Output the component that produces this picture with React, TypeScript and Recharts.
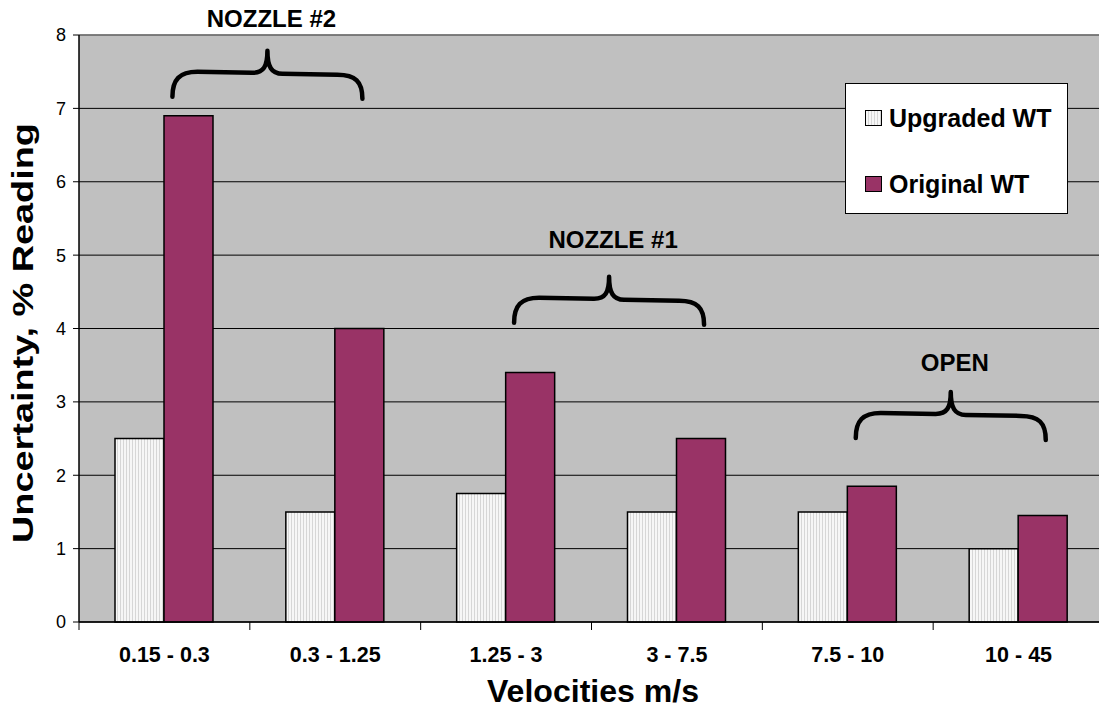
import React from "react";
import {
  BarChart,
  Bar,
  XAxis,
  YAxis,
  CartesianGrid,
  Legend,
  ReferenceLine,
  ReferenceDot,
  Customized,
} from "recharts";

const categories = ["0.15 - 0.3", "0.3 - 1.25", "1.25 - 3", "3 - 7.5", "7.5 - 10", "10 - 45"];
const upgradedWT = [2.5, 1.5, 1.75, 1.5, 1.5, 1.0];
const originalWT = [6.9, 4.0, 3.4, 2.5, 1.85, 1.45];
const yTicks = [0, 1, 2, 3, 4, 5, 6, 7, 8];

// brace annotations: starting category, brace level and label level (data units)
const braceCategories = ["0.15 - 0.3", "1.25 - 3", "7.5 - 10"];
const braceLabels = ["NOZZLE #2", "NOZZLE #1", "OPEN"];
const braceLevels = [7.5, 4.42, 2.85];
const labelLevels = [8.11, 5.1, 3.42];

const data = categories.map((c, i) => ({
  name: c,
  upgraded: upgradedWT[i],
  original: originalWT[i],
}));

const W = 1110;
const H = 710;
const PLOT_LEFT = 79;
const PLOT_RIGHT = 1104;
const HALF_BAND = (PLOT_RIGHT - PLOT_LEFT) / categories.length / 2;
const FONT = "'Liberation Sans', Arial, sans-serif";
const PURPLE = "#993366";

const XTick = (props: any) => {
  const { x, y, payload } = props;
  return (
    <g>
      <line x1={x - HALF_BAND} y1={y - 8} x2={x - HALF_BAND} y2={y} stroke="#000" strokeWidth={1} />
      <text x={x} y={y + 32} textAnchor="middle" fontSize={21.5} fontWeight="bold" fill="#000" fontFamily={FONT}>
        {payload.value}
      </text>
    </g>
  );
};

const Brace = (props: any) => {
  const { cx, cy } = props;
  const L = cx + 8;
  const Y = cy;
  const w = 190;
  const m = L + w / 2;
  const d = [
    `M ${L} ${Y + 25}`,
    `C ${L} ${Y + 8} ${L + 7} ${Y} ${L + 25} ${Y}`,
    `L ${m - 15} ${Y + 1}`,
    `C ${m - 4} ${Y + 1} ${m} ${Y - 5} ${m} ${Y - 21}`,
    `C ${m} ${Y - 5} ${m + 4} ${Y + 2} ${m + 15} ${Y + 2}`,
    `L ${L + w - 25} ${Y + 3}`,
    `C ${L + w - 7} ${Y + 3} ${L + w} ${Y + 10} ${L + w} ${Y + 27}`,
  ].join(" ");
  return <path d={d} fill="none" stroke="#000" strokeWidth={4.5} strokeLinecap="round" strokeLinejoin="round" />;
};

const braceLabel = (text: string) => (props: any) => {
  const { cx, cy } = props;
  return (
    <text x={cx + 107} y={cy} textAnchor="middle" fontSize={24} fontWeight="bold" fill="#000" fontFamily={FONT}>
      {text}
    </text>
  );
};

const AxisTitles = () => (
  <g fontFamily={FONT} fontWeight="bold" fill="#000">
    <text
      transform="translate(33,333) rotate(-90)"
      textAnchor="middle"
      fontSize={29}
      textLength={420}
      lengthAdjust="spacingAndGlyphs"
    >
      Uncertainty, % Reading
    </text>
    <text x={593} y={702} textAnchor="middle" fontSize={31} textLength={212} lengthAdjust="spacingAndGlyphs">
      Velocities m/s
    </text>
  </g>
);

const LegendBox = () => {
  const items = [
    { label: "Upgraded WT", fill: "url(#stripes)" },
    { label: "Original WT", fill: PURPLE },
  ];
  return (
    <div
      style={{
        width: 223,
        height: 131,
        boxSizing: "border-box",
        background: "#fff",
        border: "1px solid #000",
        fontFamily: FONT,
        position: "relative",
      }}
    >
      {items.map((it, i) => (
        <div
          key={it.label}
          style={{
            position: "absolute",
            left: 19,
            top: 21 + i * 66,
            display: "flex",
            alignItems: "center",
            whiteSpace: "nowrap",
          }}
        >
          <svg width={18} height={17} style={{ display: "block" }}>
            <rect x={0.5} y={0.5} width={16} height={15} fill={it.fill} stroke="#000" strokeWidth={1} />
          </svg>
          <span style={{ fontSize: 25, fontWeight: "bold", color: "#000", marginLeft: 6, lineHeight: "27px" }}>
            {it.label}
          </span>
        </div>
      ))}
    </div>
  );
};

export default function App() {
  return (
    <div style={{ position: "fixed", left: 0, top: 0, width: 1099, height: 710, overflow: "hidden", background: "#fff" }}>
      <BarChart
        width={W}
        height={H}
        data={data}
        margin={{ top: 35, right: W - PLOT_RIGHT, bottom: 0, left: 0 }}
        barGap={0}
      >
        <defs>
          <pattern id="stripes" width={3} height={4} patternUnits="userSpaceOnUse">
            <rect width={3} height={4} fill="#f6f6f6" />
            <rect x={0} width={1} height={4} fill="#d6d6d6" />
          </pattern>
        </defs>
        <CartesianGrid vertical={false} stroke="#000" strokeOpacity={1} fill="#C0C0C0" fillOpacity={1} />
        <XAxis
          dataKey="name"
          height={88}
          axisLine={{ stroke: "#000", strokeWidth: 1.5 }}
          tickLine={false}
          tickSize={8}
          tickMargin={0}
          tick={<XTick />}
          interval={0}
        />
        <YAxis
          width={PLOT_LEFT}
          domain={[0, 8]}
          ticks={yTicks}
          interval={0}
          axisLine={{ stroke: "#000", strokeWidth: 1.5 }}
          tickLine={{ stroke: "#000" }}
          tickSize={6}
          tickMargin={7}
          tick={{ fill: "#000", fontSize: 18, fontFamily: FONT }}
        />
        <ReferenceLine y={8} stroke="#808080" strokeWidth={1.5} />
        <Bar dataKey="upgraded" name="Upgraded WT" fill="url(#stripes)" stroke="#000" strokeWidth={1.5} barSize={49} isAnimationActive={false} />
        <Bar dataKey="original" name="Original WT" fill={PURPLE} stroke="#000" strokeWidth={1.5} barSize={49} isAnimationActive={false} />
        {braceCategories.map((c, i) => (
          <ReferenceDot key={"b" + i} x={c} y={braceLevels[i]} r={0} ifOverflow="visible" shape={Brace} />
        ))}
        {braceCategories.map((c, i) => (
          <ReferenceDot key={"l" + i} x={c} y={labelLevels[i]} r={0} ifOverflow="visible" shape={braceLabel(braceLabels[i])} />
        ))}
        <Legend
          layout="vertical"
          align="center"
          verticalAlign="middle"
          wrapperStyle={{ position: "absolute", left: 845, top: 83, width: 223, height: 131 }}
          content={<LegendBox />}
        />
        <Customized component={<AxisTitles />} />
      </BarChart>
    </div>
  );
}
